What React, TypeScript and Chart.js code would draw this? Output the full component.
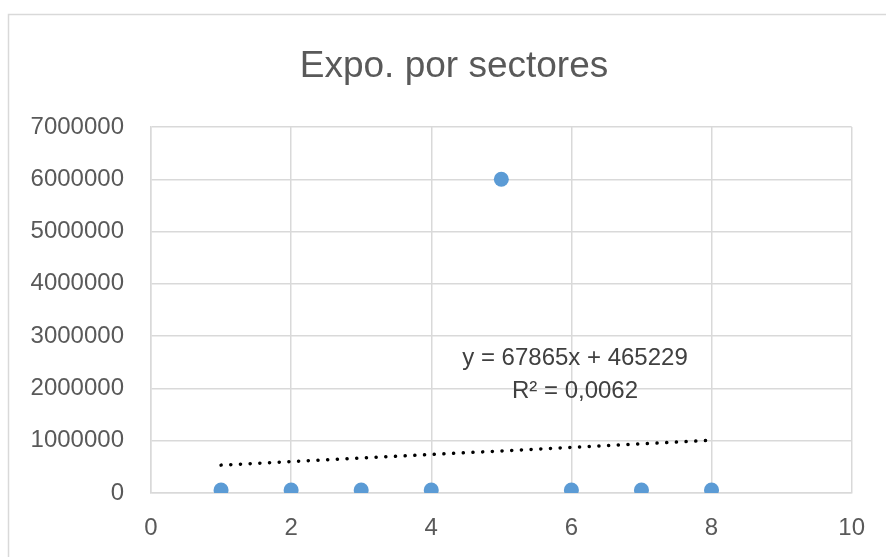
import React, { useEffect, useRef } from "react";
import { Chart, registerables } from "chart.js";

Chart.register(...registerables);

const chartTitle = "Expo. por sectores";
const sectorX = [1, 2, 3, 4, 5, 6, 7, 8];
const exportValues = [58000, 58000, 58000, 58000, 6000000, 58000, 58000, 58000];
const trendSlope = 67865;
const trendIntercept = 465229;
const trendLabelLines = ["y = 67865x + 465229", "R² = 0,0062"];
const xAxisMin = 0;
const xAxisMax = 10;
const xAxisStep = 2;
const yAxisMin = 0;
const yAxisMax = 7000000;
const yAxisStep = 1000000;

const FONT = "'Liberation Sans', Arial, sans-serif";
const GRID = "#d9d9d9";
const TEXT = "#595959";

export default function App() {
  const ref = useRef<HTMLCanvasElement | null>(null);

  useEffect(() => {
    if (!ref.current) return;
    const xMin = Math.min(...sectorX);
    const xMax = Math.max(...sectorX);
    const trendPoints = [xMin, xMax].map((x) => ({ x, y: trendSlope * x + trendIntercept }));

    const decor = {
      id: "decor",
      beforeDraw(chart: any) {
        const ctx = chart.ctx;
        ctx.save();
        ctx.fillStyle = "#ffffff";
        ctx.fillRect(0, 0, chart.width, chart.height);
        ctx.strokeStyle = GRID;
        ctx.lineWidth = 1.5;
        ctx.strokeRect(8.5, 14.5, chart.width + 20, chart.height + 20);
        ctx.restore();
      },
      afterDraw(chart: any) {
        const ctx = chart.ctx;
        ctx.save();
        ctx.fillStyle = TEXT;
        ctx.textAlign = "center";
        ctx.textBaseline = "alphabetic";
        ctx.font = `37px ${FONT}`;
        ctx.fillText(chartTitle, 454, 77);
        ctx.fillStyle = "#404040";
        ctx.font = `24px ${FONT}`;
        ctx.fillText(trendLabelLines[0], 575, 365);
        ctx.fillText(trendLabelLines[1], 575, 398);
        ctx.restore();
      },
    };

    const chart = new Chart(ref.current, {
      type: "scatter",
      data: {
        datasets: [
          {
            label: "Expo",
            data: sectorX.map((x, i) => ({ x, y: exportValues[i] })),
            backgroundColor: "#5b9bd5",
            borderWidth: 0,
            pointRadius: 7.5,
          },
          {
            type: "line",
            label: "Tendencia",
            data: trendPoints,
            borderColor: "#000000",
            borderWidth: 3.5,
            borderDash: [0.1, 9.6],
            borderCapStyle: "round",
            pointRadius: 0,
            fill: false,
          } as any,
        ],
      },
      options: {
        responsive: false,
        animation: false,
        devicePixelRatio: 1,
        layout: { padding: { top: 127, right: 34, left: 0, bottom: 0 } },
        plugins: {
          legend: { display: false },
          title: { display: false },
          tooltip: { enabled: false },
        },
        scales: {
          x: {
            type: "linear",
            min: xAxisMin,
            max: xAxisMax,
            ticks: {
              stepSize: xAxisStep,
              color: TEXT,
              font: { family: FONT, size: 24 },
              padding: 21,
            },
            grid: { color: GRID, lineWidth: 1.5, drawTicks: false },
            border: { color: GRID, width: 1.5 },
            afterFit(scale: any) {
              scale.height = 64;
            },
          },
          y: {
            type: "linear",
            min: yAxisMin,
            max: yAxisMax,
            ticks: {
              stepSize: yAxisStep,
              color: TEXT,
              font: { family: FONT, size: 24 },
              padding: 27,
              callback: (v: any) => String(v),
            },
            grid: { color: GRID, lineWidth: 1.5, drawTicks: false },
            border: { color: GRID, width: 1.5 },
            afterFit(scale: any) {
              scale.width = 151;
            },
          },
        },
      },
      plugins: [decor],
    } as any);
    return () => chart.destroy();
  }, []);

  return (
    <div style={{ position: "absolute", left: 0, top: 0, width: 886, height: 557 }}>
      <canvas ref={ref} width={886} height={557} style={{ display: "block" }} />
    </div>
  );
}
